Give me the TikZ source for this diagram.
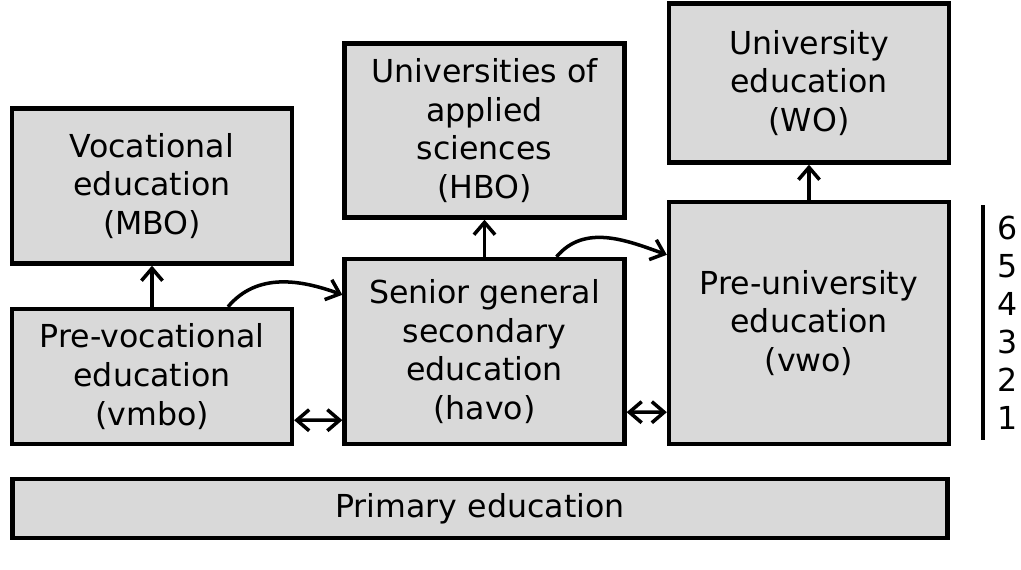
\documentclass[tikz,border=0pt]{standalone}
\usepackage{fontspec}
\setmainfont{DejaVu Sans}
\usepackage{tikz}
\usetikzlibrary{arrows.meta}

\begin{document}
\begin{tikzpicture}[x=0.02cm, y=-0.02cm,
        schoolbox/.style={draw, line width=2.5pt, fill=black!15, align=center,
            inner sep=0pt, minimum width=5.6cm,
            font=\fontsize{18}{22}\selectfont},
        flow/.style={line width=2pt, -{Straight Barb[length=7pt, width=12pt, line width=2pt]}},
        swap/.style={line width=2pt, {Straight Barb[length=7pt, width=12pt, line width=2pt]}-{Straight Barb[length=7pt, width=12pt, line width=2pt]}}]
    \useasboundingbox (0,0) rectangle (1021,569);

        \node[schoolbox, minimum height=3.1cm] (mbo) at (152, 186) {Vocational\\education\\(MBO)};
        \node[schoolbox, minimum height=3.48cm] (hbo) at (484.5, 130.5) {Universities of\\applied\\sciences\\(HBO)};
        \node[schoolbox, minimum height=3.18cm] (wo) at (809, 83) {University\\education\\(WO)};
        \node[schoolbox, minimum height=2.7cm] (vmbo) at (152, 376.5) {Pre-vocational\\education\\(vmbo)};
        \node[schoolbox, minimum height=3.7cm] (havo) at (484.5, 351.5) {Senior general\\secondary\\education\\(havo)};
        \node[schoolbox, minimum height=4.84cm] (vwo) at (809, 323) {Pre-university\\education\\(vwo)};
        \node[schoolbox, minimum height=1.18cm, minimum width=18.7cm] (primary) at (480, 508.5) {Primary education};

        \node[align=center, font=\fontsize{18}{21.6}\selectfont] (grades) at (1008, 323) {6\\5\\4\\3\\2\\1};
        \coordinate (gtop) at (983, 205);
        \coordinate (gbot) at (983, 440);
        \draw[line width=2pt] (gtop) -- (gbot);

        \draw[flow] (vmbo.north) -- (mbo.south);
        \draw[flow] (havo.north) -- (hbo.south);
        \draw[flow] (vwo.north) -- (wo.south);

        \draw[flow] ([xshift=1.52cm]vmbo.north) to[out=50, in=160] ([yshift=-0.76cm]havo.north west);
        \draw[flow] ([xshift=1.44cm]havo.north) to[out=50, in=160] ([yshift=-1.1cm]vwo.north west);

        \draw[swap] ([yshift=0.52cm]vmbo.south east) -- ([yshift=0.52cm]havo.south west);
        \draw[swap] ([yshift=0.68cm]havo.south east) -- ([yshift=0.68cm]vwo.south west);
    \end{tikzpicture}
\end{document}
